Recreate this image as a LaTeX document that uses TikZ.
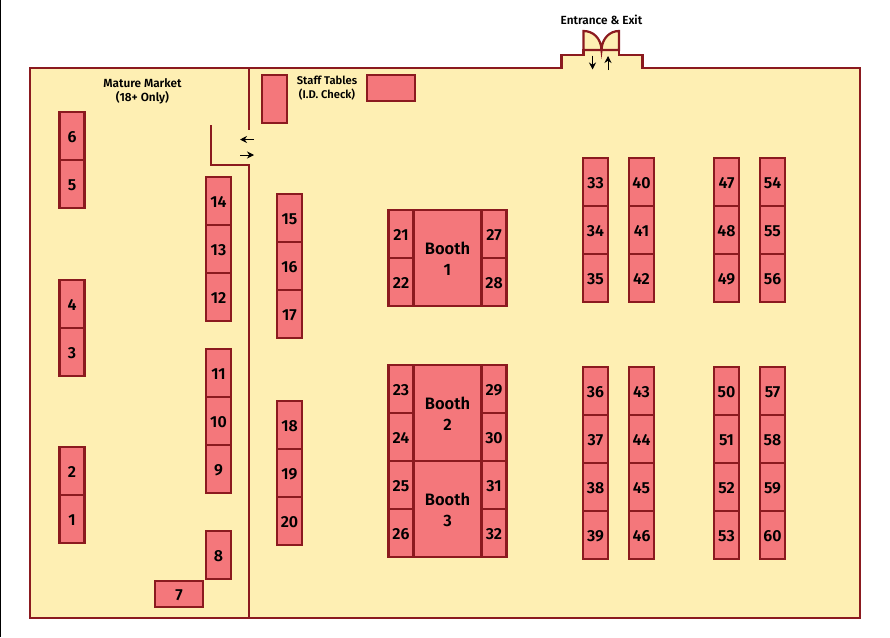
\documentclass[tikz,border=0pt]{standalone}
\usepackage{fontspec}
\usetikzlibrary{arrows.meta}
\setmainfont{Fira Sans SemiBold}
\definecolor{wallRed}{HTML}{8B1A1F}
\definecolor{floorCream}{HTML}{FEEFB3}
\definecolor{tableRed}{HTML}{F4777B}
\tikzset{
	wall/.style={draw=wallRed, line width=2.2pt},
	tbl/.style={draw=wallRed, fill=tableRed, line width=2.2pt, minimum width=25pt, minimum height=48pt, inner sep=0pt, text height=13pt, text depth=0pt, font=\fontsize{16}{18}\selectfont},
	tblWide/.style={tbl, minimum width=48pt, minimum height=26pt},
	booth/.style={tbl, minimum width=68pt, minimum height=96pt},
	boothText/.style={align=center, inner sep=0pt, yshift=-1pt, font=\fontsize{16.5}{21}\selectfont},
	caption/.style={align=center, inner sep=0pt, font=\fontsize{11.8}{13.5}\selectfont},
	flow/.style={-{Stealth[length=7pt, width=7pt]}, black, line width=0.9pt}
}
\begin{document}
\begin{tikzpicture}[x=1pt, y=-1pt]
	\useasboundingbox (0,0) rectangle (890,637);
	
	% Page edge
	\draw[black, line width=2pt] (0,0) -- (0,637);
	
	% Floor outline
	\draw[wall, fill=floorCream] (30,68) -- (561.5,68) -- (561.5,55) -- (583.5,55) -- (583.5,50) -- (619,50) -- (619,55) -- (642.5,55) -- (642.5,68) -- (860,68) -- (860,618) -- (30,618) -- cycle;
	
	% Doors
	\draw[wall, fill=floorCream] (583.5,31) .. controls (593,31) and (601,38) .. (601.5,50) .. controls (602,38) and (610,31) .. (619,31) -- (619,50) -- (583.5,50) -- cycle;
	
	% Inner walls
	\draw[wall] (249,68) -- (249,130);
	\draw[wall] (249,618) -- (249,165) -- (211,165) -- (211,125);
	
	% Arrows
	\coordinate (inA) at (254,139.5);
	\coordinate (inB) at (240,139.5);
	\coordinate (outA) at (240,155);
	\coordinate (outB) at (254,155);
	\coordinate (doorA) at (592.5,55.5);
	\coordinate (doorB) at (592.5,69.5);
	\coordinate (doorC) at (608,70);
	\coordinate (doorD) at (608,56);
	\draw[flow] (inA) -- (inB);
	\draw[flow] (outA) -- (outB);
	\draw[flow] (doorA) -- (doorB);
	\draw[flow] (doorC) -- (doorD);
	
	% Upright tables
	\foreach \n/\x/\y in {6/72/136, 5/72/184, 4/72/304, 3/72/352, 2/72/471, 1/72/519,
		14/218.5/201, 13/218.5/249, 12/218.5/297, 11/218.5/373, 10/218.5/421, 9/218.5/469, 8/218.5/555,
		15/289.5/218, 16/289.5/266, 17/289.5/314, 18/289.5/425, 19/289.5/473, 20/289.5/521,
		21/401/234, 22/401/282, 23/401/389, 24/401/437, 25/401/485, 26/401/533,
		27/494/234, 28/494/282, 29/494/389, 30/494/437, 31/494/485, 32/494/533,
		33/595.5/182, 34/595.5/230, 35/595.5/278, 36/595.5/391, 37/595.5/439, 38/595.5/487, 39/595.5/535,
		40/641.5/182, 41/641.5/230, 42/641.5/278, 43/641.5/391, 44/641.5/439, 45/641.5/487, 46/641.5/535,
		47/726.5/182, 48/726.5/230, 49/726.5/278, 50/726.5/391, 51/726.5/439, 52/726.5/487, 53/726.5/535,
		54/772.5/182, 55/772.5/230, 56/772.5/278, 57/772.5/391, 58/772.5/439, 59/772.5/487, 60/772.5/535} {
		\node[tbl] (t\n) at (\x,\y) {\n};
	}
	\node[tblWide] (t7) at (179,594) {7};
	
	% Staff tables
	\node[tbl] (staffA) at (274.5,99) {};
	\node[tblWide] (staffB) at (391,88) {};
	
	% Booths
	\foreach \n/\y in {1/258, 2/413, 3/509} {
		\node[booth, label={[boothText]center:Booth\\\n}] (booth\n) at (447.5,\y) {};
	}
	
	% Captions
	\node[caption] (mature) at (142.5,91.5) {Mature Market\\(18+ Only)};
	\node[caption, font=\fontsize{11.2}{13.5}\selectfont] (staff) at (327,88) {Staff Tables\\(I.D. Check)};
	\node[caption] (entrance) at (601.5,20) {Entrance \& Exit};
\end{tikzpicture}
\end{document}
